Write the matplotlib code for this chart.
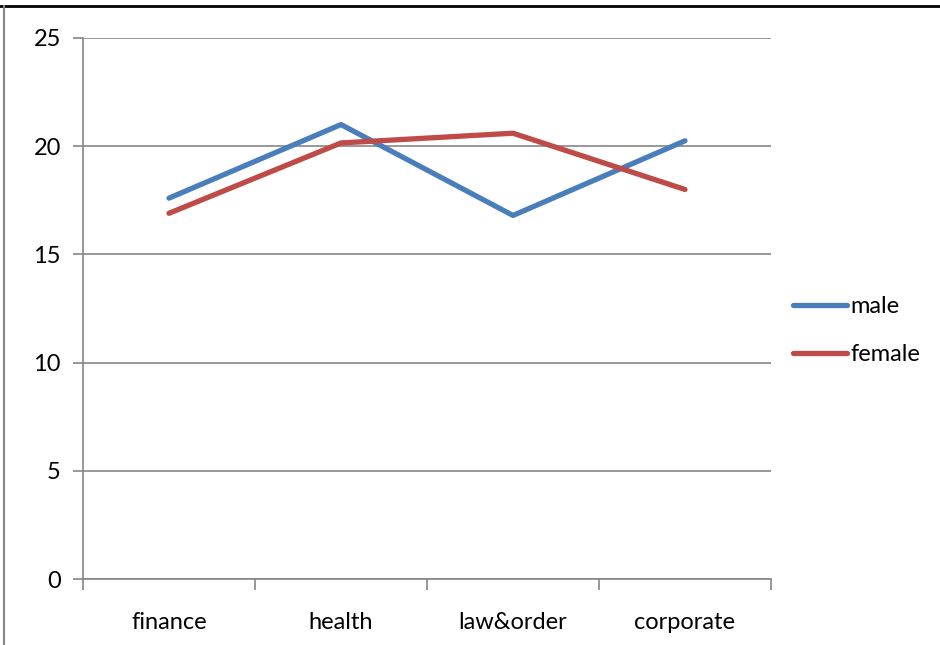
import matplotlib.pyplot as plt
from matplotlib.lines import Line2D

plt.rcParams['font.family'] = ['Lato', 'DejaVu Sans']

categories = ['finance', 'health', 'law&order', 'corporate']
male = [17.6, 21.0, 16.8, 20.25]
female = [16.9, 20.15, 20.6, 18.0]

fig = plt.figure(figsize=(9.4, 6.45), dpi=100)
W, H = 940, 645
ax = fig.add_axes([83 / W, (H - 579) / H, 688 / W, 541 / H])

x = range(len(categories))
ax.plot(x, male, color='#4A7EBB', lw=3.8, solid_capstyle='round', label='male', zorder=3)
ax.plot(x, female, color='#BE4B48', lw=3.8, solid_capstyle='round', label='female', zorder=3)

ax.set_xlim(-0.5, 3.5)
ax.set_ylim(0, 25)
ax.set_yticks([0, 5, 10, 15, 20, 25])
ax.yaxis.grid(True, color='#868686', lw=1.2)
ax.set_axisbelow(True)

# category ticks sit on the boundaries, labels in the middle
ax.set_xticks([-0.5, 0.5, 1.5, 2.5, 3.5])
ax.set_xticklabels([])
ax.set_xticks(list(x), minor=True)
ax.set_xticklabels(categories, minor=True)
ax.tick_params(axis='x', which='major', length=8, direction='out', color='#868686', width=1.2)
ax.tick_params(axis='x', which='minor', length=0, pad=24, labelsize=17)
ax.tick_params(axis='y', length=7, direction='out', color='#868686', width=1.2, pad=9, labelsize=17)

for side in ['top', 'right']:
    ax.spines[side].set_visible(False)
for side in ['left', 'bottom']:
    ax.spines[side].set_color('#868686')
    ax.spines[side].set_linewidth(1.2)

leg = fig.legend(loc='upper left', bbox_to_anchor=(793 / W, 1 - 296 / H), frameon=False,
                 borderpad=0, borderaxespad=0, fontsize=17, handlelength=2.3,
                 handletextpad=0.15, labelspacing=1.15)

# chart frame edges
fig.add_artist(Line2D([0, 1], [1 - 6 / H, 1 - 6 / H], color='black', lw=2))
fig.add_artist(Line2D([4 / W, 4 / W], [0, 1 - 6 / H], color='#868686', lw=1.5))

fig.savefig('out.png', dpi=100)
